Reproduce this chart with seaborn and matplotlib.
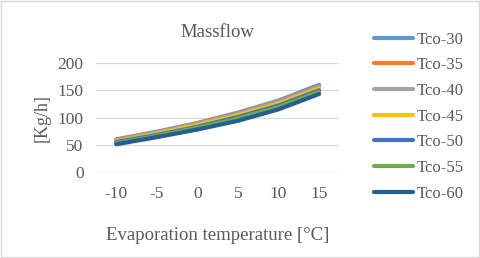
import matplotlib
matplotlib.use("Agg")
import matplotlib.pyplot as plt
import seaborn as sns
import pandas as pd

# ==========================================================================
# DATA
# ==========================================================================
evap_temps = [-10, -5, 0, 5, 10, 15]
series_names = ["Tco-30", "Tco-35", "Tco-40", "Tco-45", "Tco-50", "Tco-55", "Tco-60"]
tco30 = [60, 74, 90, 109, 131, 160]
tco35 = [59, 73, 89, 107, 129, 157]
tco40 = [58, 72, 88, 106, 128, 155]
tco45 = [56, 70, 86, 104, 125, 153]
tco50 = [55, 68, 83, 101, 122, 150]
tco55 = [53, 66, 81, 98, 119, 147]
tco60 = [51, 64, 78, 94, 115, 143]
colors = ["#5B9BD5", "#ED7D31", "#A5A5A5", "#FFC000", "#4472C4", "#70AD47", "#255E91"]

rows = []
for name, vals in zip(series_names, [tco30, tco35, tco40, tco45, tco50, tco55, tco60]):
    for i, v in enumerate(vals):
        rows.append({"pos": i, "temp": evap_temps[i], "value": v, "series": name})
df = pd.DataFrame(rows)

# ==========================================================================
# PLOT
# ==========================================================================
sns.set_style("white")
plt.rcParams['font.family'] = ['Liberation Serif', 'DejaVu Serif']
text_color = "#595959"

fig = plt.figure(figsize=(4.8, 2.58), dpi=100)
ax = fig.add_axes([0.2, 0.333, 0.507, 0.423])

sns.lineplot(data=df, x="pos", y="value", hue="series", hue_order=series_names,
             palette=colors, linewidth=3.0, ax=ax, legend=True)

ax.set_xlim(-0.5, 5.5)
ax.set_ylim(0, 200)
ax.set_yticks([0, 50, 100, 150, 200])
ax.set_xticks(range(len(evap_temps)))
ax.set_xticklabels([str(t) for t in evap_temps])
ax.yaxis.grid(True, color="#D9D9D9", linewidth=0.9)
ax.set_axisbelow(True)
for s in ax.spines.values():
    s.set_visible(False)
ax.tick_params(axis="both", length=0, labelsize=12.5, colors=text_color)
ax.tick_params(axis="x", pad=10)
ax.tick_params(axis="y", pad=9)

ax.set_title("Massflow", fontsize=13.5, color=text_color, pad=19)
ax.set_xlabel("Evaporation temperature [\u00b0C]", fontsize=13.5, color=text_color, labelpad=18)
ax.set_ylabel("[Kg/h]", fontsize=13, color=text_color, labelpad=5)

# move the legend out to the right, without the seaborn title
handles, labels = ax.get_legend_handles_labels()
ax.get_legend().remove()
fig.legend(handles, labels, loc="center left", bbox_to_anchor=(0.78, 0.548),
           bbox_transform=fig.transFigure, frameon=False, fontsize=12,
           labelcolor=text_color, handlelength=2.3, handletextpad=0.25,
           labelspacing=0.58, borderpad=0, borderaxespad=0)

# light border round the whole figure
fig.patches.append(plt.Rectangle((0.002, 0.004), 0.996, 0.992, transform=fig.transFigure,
                                 fill=False, edgecolor="#D9D9D9", linewidth=1))

plt.savefig("out.png", dpi=100)
